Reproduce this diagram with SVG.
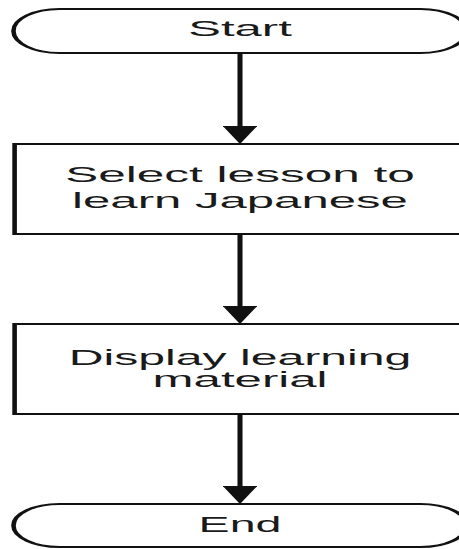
<svg xmlns="http://www.w3.org/2000/svg" width="459" height="549" viewBox="0 0 459 549">
<style>
.shape{fill:#fff;stroke:#111;stroke-width:2}
.lbl{font-family:"Liberation Sans",Arial,sans-serif;font-size:21.5px;fill:#1a1a1a;text-anchor:middle}
.conn{stroke:#111;stroke-width:2.2;fill:none}
</style>
<defs>
<marker id="ah" viewBox="0 0 18 15" refX="10" refY="7.5" markerWidth="18" markerHeight="15" markerUnits="userSpaceOnUse" orient="auto">
<path d="M0,0 L18,7.5 L0,15 Z" fill="#111"/>
</marker>
</defs>
<rect width="459" height="549" fill="#fff"/>
<g transform="translate(240,0) scale(2.3,1)">
<g id="connectors">
<line class="conn" x1="0" y1="53" x2="0" y2="136" marker-end="url(#ah)"/>
<line class="conn" x1="0" y1="234" x2="0" y2="316" marker-end="url(#ah)"/>
<line class="conn" x1="0" y1="414" x2="0" y2="496" marker-end="url(#ah)"/>
</g>
<g id="start">
<rect class="shape" x="-98.5" y="9" width="197" height="44" rx="20" ry="22"/>
<text class="lbl" x="0" y="36" textLength="45" lengthAdjust="spacingAndGlyphs">Start</text>
</g>
<g id="select">
<rect class="shape" x="-98" y="144" width="196" height="90"/>
<text class="lbl" x="0" y="182" textLength="152" lengthAdjust="spacingAndGlyphs">Select lesson to</text>
<text class="lbl" x="0" y="208" textLength="146" lengthAdjust="spacingAndGlyphs">learn Japanese</text>
</g>
<g id="display">
<rect class="shape" x="-98" y="324" width="196" height="90"/>
<text class="lbl" x="0" y="365" textLength="149" lengthAdjust="spacingAndGlyphs">Display learning</text>
<text class="lbl" x="0" y="387" textLength="76" lengthAdjust="spacingAndGlyphs">material</text>
</g>
<g id="end">
<rect class="shape" x="-98.5" y="504" width="197" height="43" rx="20" ry="21.5"/>
<text class="lbl" x="0" y="532" textLength="36" lengthAdjust="spacingAndGlyphs">End</text>
</g>
</g>
</svg>
